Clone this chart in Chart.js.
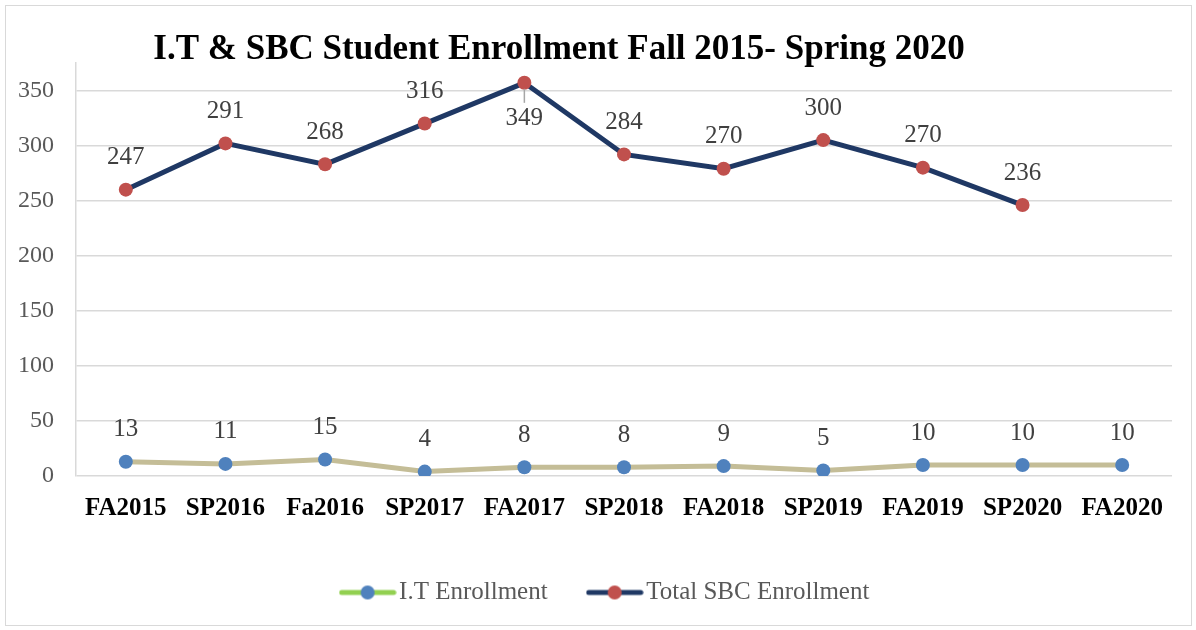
<!DOCTYPE html>
<html>
<head>
<meta charset="utf-8">
<script src="https://cdn.jsdelivr.net/npm/chart.js@4.4.1/dist/chart.umd.min.js"></script>
<style>
  body { margin: 0; background: #fff; }
  #frame { position: absolute; left: 5px; top: 5px; width: 1185px; height: 619px; border: 1px solid #d9d9d9; }
  #wrap { position: absolute; left: 0; top: 0; width: 1196px; height: 630px; }
</style>
</head>
<body>
<div id="frame"></div>
<div id="wrap"><canvas id="enrollChart" width="1196" height="630"></canvas></div>
<script>
// datos
const semesters = ['FA2015', 'SP2016', 'Fa2016', 'SP2017', 'FA2017', 'SP2018', 'FA2018', 'SP2019', 'FA2019', 'SP2020', 'FA2020'];
const itEnrollment = [13, 11, 15, 4, 8, 8, 9, 5, 10, 10, 10];
const sbcEnrollment = [247, 291, 268, 316, 349, 284, 270, 300, 270, 236, null];
const yTicks = [0, 50, 100, 150, 200, 250, 300, 350];
const chartTitle = 'I.T & SBC Student Enrollment Fall 2015- Spring 2020';

const serif = '"Liberation Serif", "DejaVu Serif", serif';

// icono de leyenda: linea con punto
function legendIcon(lineColor, dotColor) {
    const c = document.createElement('canvas');
    c.width = 58; c.height = 16;
    const g = c.getContext('2d');
    g.strokeStyle = lineColor;
    g.lineWidth = 5;
    g.lineCap = 'round';
    g.beginPath(); g.moveTo(3, 8); g.lineTo(55, 8); g.stroke();
    g.fillStyle = dotColor;
    g.beginPath(); g.arc(29, 8, 7, 0, Math.PI * 2); g.fill();
    return c;
}
const legendIcons = [legendIcon('#92d050', '#4f81bd'), legendIcon('#1f3864', '#c0504d')];

// titulo desplazado como en el original
const titlePlugin = {
    id: 'offsetTitle',
    afterLayout(chart) {
        // centrar la leyenda sin el relleno final
        chart.legend.left += 46;
    },
    afterDraw(chart) {
        const ctx = chart.ctx;
        ctx.save();
        ctx.font = 'bold 35px ' + serif;
        ctx.fillStyle = '#000';
        ctx.textAlign = 'center';
        ctx.textBaseline = 'alphabetic';
        ctx.fillText(chartTitle, 559, 59);
        ctx.restore();
    }
};

// etiquetas de valores
const valueLabels = {
    id: 'valueLabels',
    afterDatasetsDraw(chart) {
        const ctx = chart.ctx;
        ctx.save();
        ctx.font = '25px ' + serif;
        ctx.fillStyle = '#404040';
        ctx.textAlign = 'center';
        ctx.textBaseline = 'middle';
        chart.data.datasets.forEach((ds, i) => {
            const meta = chart.getDatasetMeta(i);
            meta.data.forEach((pt, j) => {
                const v = ds.data[j];
                if (v == null) return;
                let y = pt.y - 32;
                if (y - 10 < chart.chartArea.top) {
                    // no cabe arriba: debajo con linea guia
                    ctx.strokeStyle = '#a6a6a6';
                    ctx.lineWidth = 1.5;
                    ctx.beginPath();
                    ctx.moveTo(pt.x, pt.y + 6);
                    ctx.lineTo(pt.x, pt.y + 20);
                    ctx.stroke();
                    y = pt.y + 36;
                }
                ctx.fillText(v, pt.x, y);
            });
        });
        ctx.restore();
    }
};

const ctx = document.getElementById('enrollChart').getContext('2d');
const enrollChart = new Chart(ctx, {
    type: 'line',
    data: {
        labels: semesters,
        datasets: [{
            label: 'I.T Enrollment',
            data: itEnrollment,
            borderColor: '#c4bd97',
            backgroundColor: '#4f81bd',
            borderWidth: 5,
            pointRadius: 7,
            pointBorderWidth: 0,
            pointBackgroundColor: '#4f81bd',
            tension: 0
        }, {
            label: 'Total SBC Enrollment',
            data: sbcEnrollment,
            borderColor: '#1f3864',
            backgroundColor: '#c0504d',
            borderWidth: 5,
            pointRadius: 7,
            pointBorderWidth: 0,
            pointBackgroundColor: '#c0504d',
            tension: 0
        }]
    },
    options: {
        responsive: false,
        animation: false,
        layout: {
            padding: { left: 0, right: 24, top: 63, bottom: 15 }
        },
        plugins: {
            title: { display: false },
            tooltip: { enabled: false },
            legend: {
                position: 'bottom',
                labels: {
                    usePointStyle: true,
                    pointStyleWidth: 38,
                    padding: 48,
                    color: '#595959',
                    font: { family: serif, size: 25 },
                    generateLabels(chart) {
                        const items = Chart.defaults.plugins.legend.labels.generateLabels(chart);
                        items.forEach((it, k) => { it.pointStyle = legendIcons[k]; });
                        return items;
                    }
                }
            }
        },
        scales: {
            x: {
                offset: true,
                grid: { display: false },
                border: { display: false },
                ticks: {
                    color: '#000',
                    padding: 10,
                    maxRotation: 0,
                    autoSkip: false,
                    font: { family: serif, size: 25, weight: 'bold' }
                },
                afterFit: s => { s.height = 56; }
            },
            y: {
                stacked: true,
                min: 0,
                max: 375,
                grid: { color: '#d9d9d9', lineWidth: 1.5, drawTicks: false },
                border: { display: true, color: '#d9d9d9', width: 1.5 },
                ticks: {
                    stepSize: 50,
                    padding: 22,
                    color: '#595959',
                    font: { family: serif, size: 24 }
                },
                afterBuildTicks: s => { s.ticks = yTicks.map(v => ({ value: v })); },
                afterFit: s => { s.width = 76; }
            }
        }
    },
    plugins: [valueLabels, titlePlugin]
});
</script>
</body>
</html>
